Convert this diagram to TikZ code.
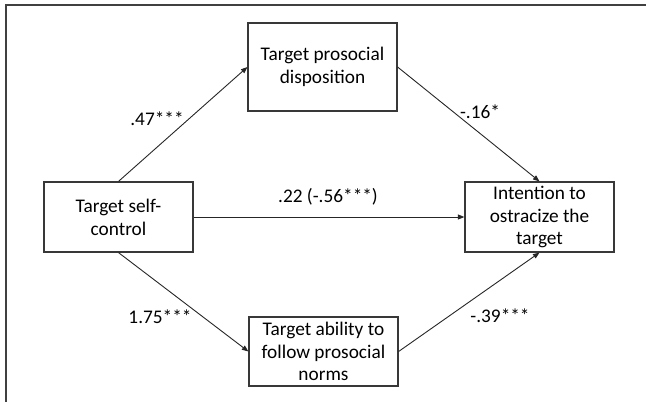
\documentclass[tikz,border=0pt]{standalone}
\usepackage{fontspec}
\setmainfont{Carlito}
\usetikzlibrary{arrows.meta}
\begin{document}
\begin{tikzpicture}[x=1pt,y=-1pt,
  every node/.style={font=\fontsize{19.3}{22.8}\selectfont, text=black},
  boxnode/.style={draw=black!78, line width=1.2pt, minimum width=149pt, inner sep=0pt, align=center},
  conn/.style={draw=black!85, line width=0.9pt, -{Triangle[length=6.5pt,width=5pt]}},
  coef/.style={inner sep=0pt}]
\useasboundingbox (0,0) rectangle (646,402);
\draw[line width=1.5pt, black!75] (6,402) -- (6,5) -- (646,5);
\node[boxnode, minimum height=88pt] (disp) at (322.5,67) {Target prosocial\\disposition};
\node[boxnode, minimum height=70pt] (self) at (118.5,217) {Target self-\\control};
\node[boxnode, minimum height=70pt] (intent) at (539.5,217) {Intention to\\ostracize the\\target};
\node[boxnode, minimum height=69pt] (abil) at (323.5,351.5) {Target ability to\\follow prosocial\\norms};
\draw[conn] (self.north) -- (disp.west);
\draw[conn] (disp.east) -- (intent.north);
\draw[conn] (self.east) -- (intent.west);
\draw[conn] (self.south) -- (abil.west);
\draw[conn] (abil.east) -- (intent.south);
\node[coef] (c1) at (157,119) {.47***};
\node[coef] (c2) at (480,112) {-.16*};
\node[coef] (c3) at (328,197) {.22 (-.56***)};
\node[coef] (c4) at (160,317) {1.75***};
\node[coef] (c5) at (500,316) {-.39***};
\end{tikzpicture}
\end{document}
